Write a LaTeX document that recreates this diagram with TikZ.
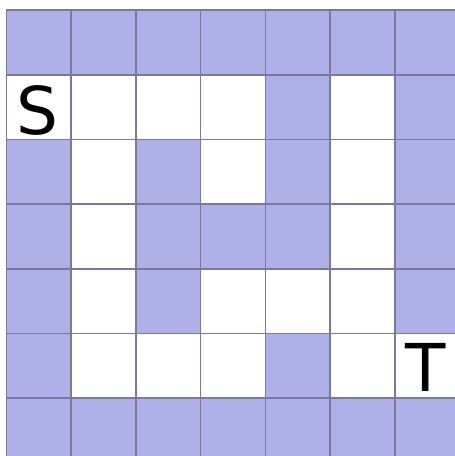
\documentclass[tikz,border=0pt]{standalone}
\usepackage{fontspec}
\setmainfont{DejaVu Sans}
\definecolor{wallc}{RGB}{176,176,232}
\definecolor{gridc}{RGB}{120,120,160}
\begin{document}
\begin{tikzpicture}[x=1pt,y=-1pt,
  wall/.style={fill=wallc,draw=gridc,line width=1.6pt},
  free/.style={fill=white,draw=gridc,line width=1.6pt},
  lbl/.style={font=\fontsize{66}{66}\selectfont,inner sep=0pt}]
\useasboundingbox (0,0) rectangle (455,456);
\clip (0,0) rectangle (455,456);
\def\cs{64.7}
\def\xo{6.5}
\def\yo{10}
\foreach \row/\pattern in {0/{1,1,1,1,1,1,1},1/{0,0,0,0,1,0,1},2/{1,0,1,0,1,0,1},3/{1,0,1,1,1,0,1},4/{1,0,1,0,0,0,1},5/{1,0,0,0,1,0,0},6/{1,1,1,1,1,1,1}}{
  \foreach \v [count=\c from 0] in \pattern {
    \ifnum\v=1
      \draw[wall] ({\xo+\c*\cs},{\yo+\row*\cs}) rectangle ++(\cs,\cs);
    \else
      \draw[free] ({\xo+\c*\cs},{\yo+\row*\cs}) rectangle ++(\cs,\cs);
    \fi
  }
}
\node[lbl] (s) at ({\xo+0.5*\cs-1},{\yo+1.5*\cs+3}) {S};
\node[lbl] (t) at ({\xo+6.5*\cs-1},{\yo+5.5*\cs+2}) {T};
\end{tikzpicture}
\end{document}
